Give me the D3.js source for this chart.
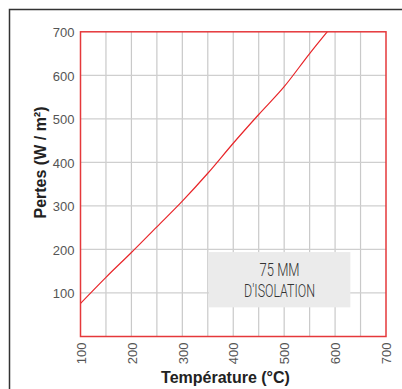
<!DOCTYPE html>
<html>
<head>
<meta charset="utf-8">
<script src="https://cdn.jsdelivr.net/npm/d3@7"></script>
<style>
  html, body { margin: 0; padding: 0; background: #fff; }
  svg { display: block; }
</style>
</head>
<body>
<svg id="chart" width="402" height="389"></svg>
<script>
// Data
const temperatures = [100, 150, 200, 250, 300, 350, 400, 450, 500, 550, 600];
const pertes       = [76, 136, 193, 252, 311, 375, 444, 510, 574, 650, 722];
const xTickLabels = [100, 200, 300, 400, 500, 600, 700];
const yTickLabels = [100, 200, 300, 400, 500, 600, 700];
const xGrid = [150, 200, 250, 300, 350, 400, 450, 500, 550, 600, 650];
const yGrid = [100, 200, 300, 400, 500, 600];
const boxLines = ["75 MM", "D'ISOLATION"];
const boxRange = { x0: 352, x1: 630, y0: 67, y1: 194 };

const svg = d3.select("#chart");
const font = "'Liberation Sans', Arial, Helvetica, sans-serif";

// outer frame
svg.append("path")
  .attr("d", "M9.5,402 V9.5 H402")
  .attr("fill", "none")
  .attr("stroke", "#333")
  .attr("stroke-width", 1.5);

const x = d3.scaleLinear().domain([100, 700]).range([80.5, 386]);
const y = d3.scaleLinear().domain([0, 700]).range([336.5, 31.8]);

// grid
const grid = svg.append("g");
grid.selectAll("line.v").data(xGrid).join("line")
  .attr("x1", d => x(d)).attr("x2", d => x(d))
  .attr("y1", y(0)).attr("y2", y(700))
  .attr("stroke", "#c9c9c9").attr("stroke-width", 1.2);
grid.selectAll("line.h").data(yGrid).join("line")
  .attr("x1", x(100)).attr("x2", x(700))
  .attr("y1", d => y(d)).attr("y2", d => y(d))
  .attr("stroke", "#cfcfcf").attr("stroke-width", 1.2);

// annotation box
svg.append("rect")
  .attr("x", x(boxRange.x0)).attr("y", y(boxRange.y1))
  .attr("width", x(boxRange.x1) - x(boxRange.x0))
  .attr("height", y(boxRange.y0) - y(boxRange.y1))
  .attr("fill", "#ebebeb");
const cx = (x(boxRange.x0) + x(boxRange.x1)) / 2;
const boxLens = [40, 71];
const boxBase = [276, 297.3];
boxLines.forEach((t, i) => {
  svg.append("text")
    .attr("x", cx).attr("y", boxBase[i])
    .attr("text-anchor", "middle")
    .attr("font-family", "Roboto, sans-serif")
    .attr("font-weight", 300)
    .attr("font-size", 19)
    .attr("fill", "#333")
    .attr("textLength", boxLens[i])
    .attr("lengthAdjust", "spacingAndGlyphs")
    .text(t);
});

// curve
const defs = svg.append("defs");
defs.append("clipPath").attr("id", "clip")
  .append("rect")
  .attr("x", x(100)).attr("y", y(700))
  .attr("width", x(700) - x(100)).attr("height", y(0) - y(700));

const pts = temperatures.map((t, i) => [t, pertes[i]]);
svg.append("path")
  .datum(pts)
  .attr("clip-path", "url(#clip)")
  .attr("fill", "none")
  .attr("stroke", "#e8262a")
  .attr("stroke-width", 1.2)
  .attr("d", d3.line().x(d => x(d[0])).y(d => y(d[1])).curve(d3.curveMonotoneX));

// plot border
svg.append("rect")
  .attr("x", x(100)).attr("y", y(700))
  .attr("width", x(700) - x(100)).attr("height", y(0) - y(700))
  .attr("fill", "none")
  .attr("stroke", "#e5383b")
  .attr("stroke-width", 1.5);

// y axis labels
const yAxis = d3.axisLeft(y).tickValues(yTickLabels).tickSize(0).tickPadding(6);
const ya = svg.append("g").attr("transform", `translate(${x(100)},0)`).call(yAxis);
ya.select(".domain").remove();
ya.selectAll("text")
  .attr("font-family", font).attr("font-size", 13).attr("fill", "#555")
  .attr("dy", "0.36em");

// x axis labels (rotated)
const xAxis = d3.axisBottom(x).tickValues(xTickLabels).tickSize(0).tickPadding(0);
const xa = svg.append("g").attr("transform", `translate(0,${y(0)})`).call(xAxis);
xa.select(".domain").remove();
xa.selectAll("text")
  .attr("font-family", font).attr("font-size", 13).attr("fill", "#555")
  .attr("transform", "rotate(-90)")
  .attr("text-anchor", "end")
  .attr("x", -6).attr("y", 0).attr("dy", "0.36em");

// axis titles
svg.append("text")
  .attr("x", 225.5).attr("y", 383)
  .attr("text-anchor", "middle")
  .attr("font-family", font).attr("font-weight", "bold").attr("font-size", 16)
  .attr("fill", "#222")
  .text("Température (°C)");

svg.append("text")
  .attr("transform", "translate(46,162.5) rotate(-90)")
  .attr("text-anchor", "middle")
  .attr("font-family", font).attr("font-weight", "bold").attr("font-size", 16)
  .attr("fill", "#222")
  .text("Pertes (W / m²)");
</script>
</body>
</html>
